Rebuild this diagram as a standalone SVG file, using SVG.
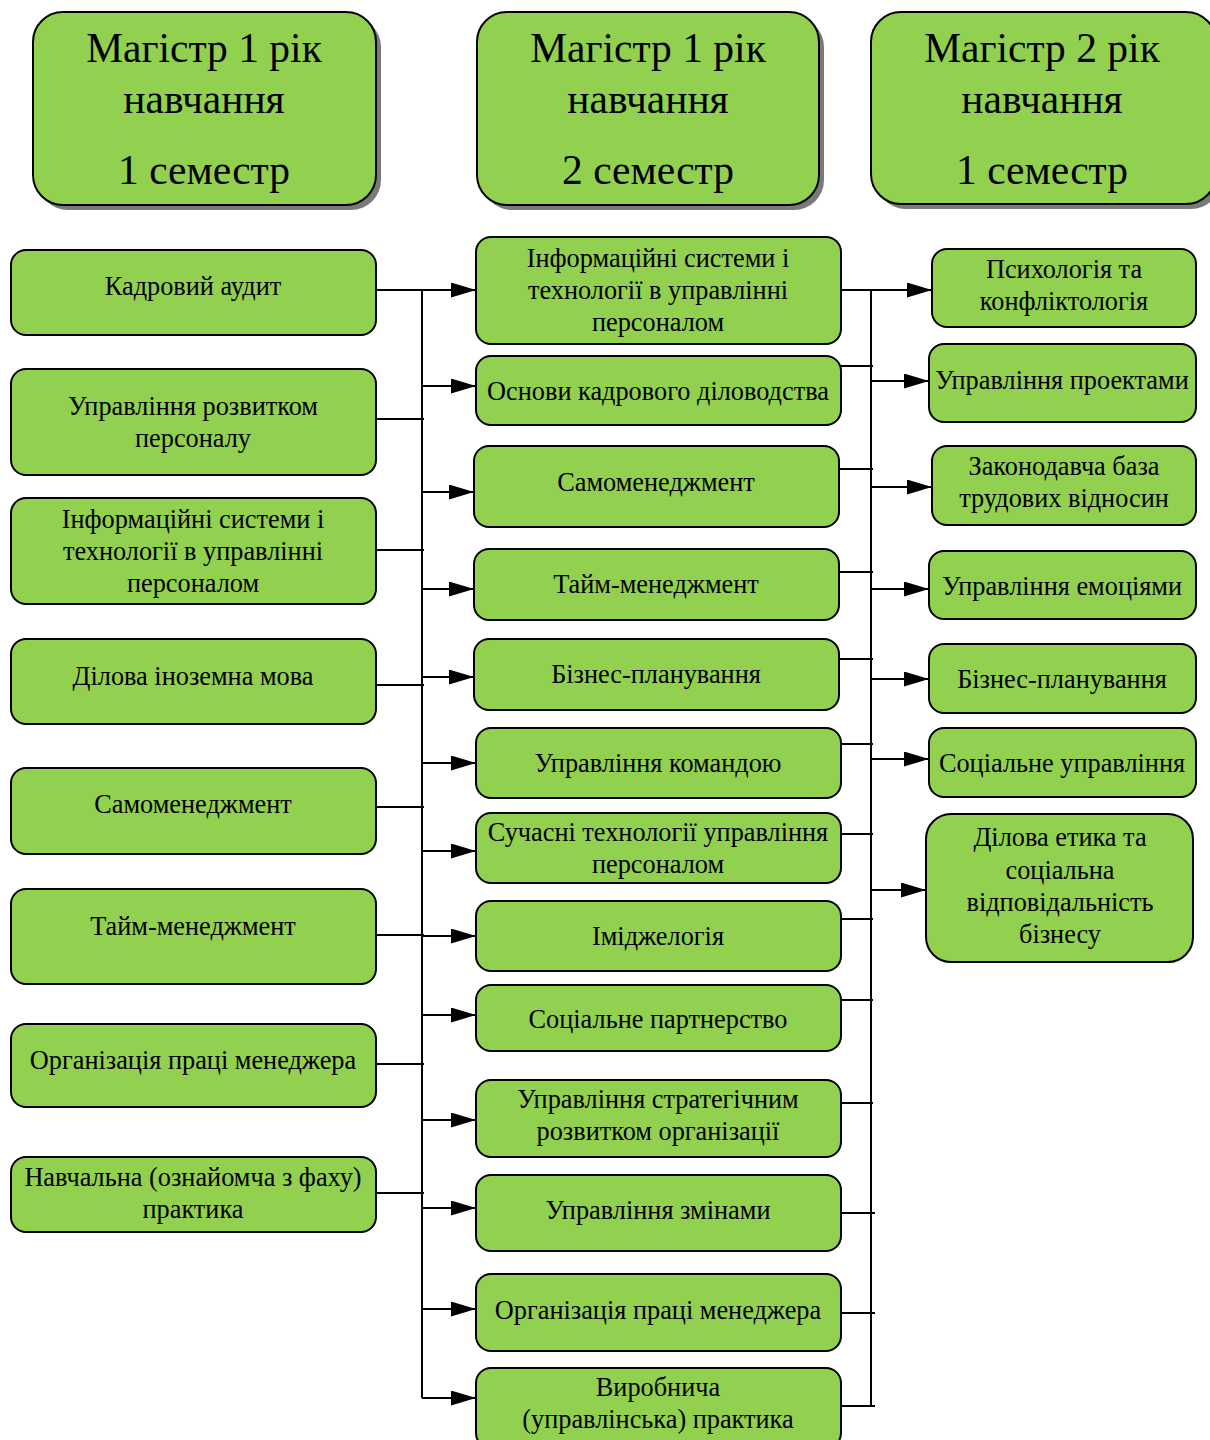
<svg xmlns="http://www.w3.org/2000/svg" width="1210" height="1440" viewBox="0 0 1210 1440">
<defs>
<marker id="arr" markerUnits="userSpaceOnUse" markerWidth="25" markerHeight="16" refX="25" refY="7.5" orient="auto">
<path d="M0,0 L25,7.5 L0,15 z" fill="#000"/>
</marker>
</defs>
<style>
.box{fill:#92D050;stroke:#000;stroke-width:2}
.sh{fill:#7a7a7a}
.hd{font-family:"Liberation Serif","Times New Roman",serif;font-size:41.5px;fill:#000;text-anchor:middle}
.t{font-family:"Liberation Serif","Times New Roman",serif;font-size:26.3px;fill:#000;text-anchor:middle}
.ln{stroke:#000;stroke-width:2;fill:none}
.ar{stroke:#000;stroke-width:2;fill:none;marker-end:url(#arr)}
</style>
<rect width="1210" height="1440" fill="#fff"/>

<g id="h1">
<rect class="sh" x="38" y="17" width="343" height="193" rx="30"/>
<rect class="box" x="33" y="12" width="343" height="193" rx="30"/>
<text class="hd" x="204" y="62">Магістр 1 рік</text>
<text class="hd" x="204" y="113">навчання</text>
<text class="hd" x="204" y="184">1 семестр</text>
</g>
<g id="h2">
<rect class="sh" x="482" y="17" width="342" height="193" rx="30"/>
<rect class="box" x="477" y="12" width="342" height="193" rx="30"/>
<text class="hd" x="648" y="62">Магістр 1 рік</text>
<text class="hd" x="648" y="113">навчання</text>
<text class="hd" x="648" y="184">2 семестр</text>
</g>
<g id="h3">
<rect class="sh" x="876" y="17" width="345" height="192" rx="30"/>
<rect class="box" x="871" y="12" width="345" height="192" rx="30"/>
<text class="hd" x="1042" y="62">Магістр 2 рік</text>
<text class="hd" x="1042" y="113">навчання</text>
<text class="hd" x="1042" y="184">1 семестр</text>
</g>

<g id="connectors">
<line class="ln" x1="422" y1="290" x2="422" y2="1398"/>
<line class="ar" x1="376" y1="290" x2="476" y2="290"/>
<line class="ln" x1="376" y1="419" x2="424" y2="419"/>
<line class="ln" x1="376" y1="550" x2="424" y2="550"/>
<line class="ln" x1="376" y1="685" x2="424" y2="685"/>
<line class="ln" x1="376" y1="807" x2="424" y2="807"/>
<line class="ln" x1="376" y1="935" x2="424" y2="935"/>
<line class="ln" x1="376" y1="1064" x2="424" y2="1064"/>
<line class="ln" x1="376" y1="1193" x2="424" y2="1193"/>
<line class="ar" x1="422" y1="386" x2="476" y2="386"/>
<line class="ar" x1="422" y1="492" x2="474" y2="492"/>
<line class="ar" x1="422" y1="589" x2="474" y2="589"/>
<line class="ar" x1="422" y1="677" x2="474" y2="677"/>
<line class="ar" x1="422" y1="763" x2="476" y2="763"/>
<line class="ar" x1="422" y1="851" x2="476" y2="851"/>
<line class="ar" x1="422" y1="936" x2="476" y2="936"/>
<line class="ar" x1="422" y1="1015" x2="476" y2="1015"/>
<line class="ar" x1="422" y1="1120" x2="476" y2="1120"/>
<line class="ar" x1="422" y1="1208" x2="476" y2="1208"/>
<line class="ar" x1="422" y1="1309" x2="476" y2="1309"/>
<line class="ar" x1="422" y1="1398" x2="476" y2="1398"/>

<line class="ln" x1="871" y1="290" x2="871" y2="1406"/>
<line class="ar" x1="841" y1="290" x2="932" y2="290"/>
<line class="ln" x1="841" y1="366" x2="873" y2="366"/>
<line class="ln" x1="839" y1="469" x2="873" y2="469"/>
<line class="ln" x1="839" y1="572" x2="873" y2="572"/>
<line class="ln" x1="839" y1="659" x2="873" y2="659"/>
<line class="ln" x1="841" y1="744" x2="873" y2="744"/>
<line class="ln" x1="841" y1="834" x2="873" y2="834"/>
<line class="ln" x1="841" y1="919" x2="873" y2="919"/>
<line class="ln" x1="841" y1="1000" x2="873" y2="1000"/>
<line class="ln" x1="841" y1="1103" x2="873" y2="1103"/>
<line class="ln" x1="841" y1="1213" x2="875" y2="1213"/>
<line class="ln" x1="841" y1="1313" x2="875" y2="1313"/>
<line class="ln" x1="841" y1="1406" x2="875" y2="1406"/>
<line class="ar" x1="871" y1="381" x2="929" y2="381"/>
<line class="ar" x1="871" y1="487" x2="932" y2="487"/>
<line class="ar" x1="871" y1="589" x2="929" y2="589"/>
<line class="ar" x1="871" y1="679" x2="929" y2="679"/>
<line class="ar" x1="871" y1="759" x2="929" y2="759"/>
<line class="ar" x1="871" y1="890" x2="926" y2="890"/>
</g>

<g id="l1"><rect class="box" x="11" y="250" width="365" height="85" rx="15"/><text class="t" x="193" y="295">Кадровий аудит</text></g>
<g id="l2"><rect class="box" x="11" y="369" width="365" height="106" rx="15"/><text class="t" x="193" y="415">Управління розвитком</text><text class="t" x="193" y="447">персоналу</text></g>
<g id="l3"><rect class="box" x="11" y="498" width="365" height="106" rx="15"/><text class="t" x="193" y="528">Інформаційні системи і</text><text class="t" x="193" y="560">технології в управлінні</text><text class="t" x="193" y="592">персоналом</text></g>
<g id="l4"><rect class="box" x="11" y="639" width="365" height="85" rx="15"/><text class="t" x="193" y="685">Ділова іноземна мова</text></g>
<g id="l5"><rect class="box" x="11" y="768" width="365" height="86" rx="15"/><text class="t" x="193" y="813">Самоменеджмент</text></g>
<g id="l6"><rect class="box" x="11" y="889" width="365" height="95" rx="15"/><text class="t" x="193" y="935">Тайм-менеджмент</text></g>
<g id="l7"><rect class="box" x="11" y="1024" width="365" height="83" rx="15"/><text class="t" x="193" y="1069">Організація праці менеджера</text></g>
<g id="l8"><rect class="box" x="11" y="1157" width="365" height="75" rx="15"/><text class="t" x="193" y="1186">Навчальна (ознайомча з фаху)</text><text class="t" x="193" y="1218">практика</text></g>

<g id="m1"><rect class="box" x="476" y="237" width="365" height="107" rx="15"/><text class="t" x="658" y="267">Інформаційні системи і</text><text class="t" x="658" y="299">технології в управлінні</text><text class="t" x="658" y="331">персоналом</text></g>
<g id="m2"><rect class="box" x="476" y="356" width="365" height="69" rx="15"/><text class="t" x="658" y="400">Основи кадрового діловодства</text></g>
<g id="m3"><rect class="box" x="474" y="446" width="365" height="81" rx="15"/><text class="t" x="656" y="491">Самоменеджмент</text></g>
<g id="m4"><rect class="box" x="474" y="549" width="365" height="71" rx="15"/><text class="t" x="656" y="593">Тайм-менеджмент</text></g>
<g id="m5"><rect class="box" x="474" y="639" width="365" height="71" rx="15"/><text class="t" x="656" y="683">Бізнес-планування</text></g>
<g id="m6"><rect class="box" x="476" y="728" width="365" height="70" rx="15"/><text class="t" x="658" y="772">Управління командою</text></g>
<g id="m7"><rect class="box" x="476" y="813" width="365" height="70" rx="15"/><text class="t" x="658" y="841">Сучасні технології управління</text><text class="t" x="658" y="873">персоналом</text></g>
<g id="m8"><rect class="box" x="476" y="901" width="365" height="70" rx="15"/><text class="t" x="658" y="945">Іміджелогія</text></g>
<g id="m9"><rect class="box" x="476" y="985" width="365" height="66" rx="15"/><text class="t" x="658" y="1028">Соціальне партнерство</text></g>
<g id="m10"><rect class="box" x="476" y="1080" width="365" height="77" rx="15"/><text class="t" x="658" y="1108">Управління стратегічним</text><text class="t" x="658" y="1140">розвитком організації</text></g>
<g id="m11"><rect class="box" x="476" y="1175" width="365" height="76" rx="15"/><text class="t" x="658" y="1219">Управління змінами</text></g>
<g id="m12"><rect class="box" x="476" y="1274" width="365" height="77" rx="15"/><text class="t" x="658" y="1319">Організація праці менеджера</text></g>
<g id="m13"><rect class="box" x="476" y="1368" width="365" height="80" rx="15"/><text class="t" x="658" y="1396">Виробнича</text><text class="t" x="658" y="1428">(управлінська) практика</text></g>

<g id="r1"><rect class="box" x="932" y="249" width="264" height="78" rx="15"/><text class="t" x="1064" y="278">Психологія та</text><text class="t" x="1064" y="310">конфліктологія</text></g>
<g id="r2"><rect class="box" x="929" y="344" width="267" height="78" rx="15"/><text class="t" x="1062" y="389">Управління проектами</text></g>
<g id="r3"><rect class="box" x="932" y="446" width="264" height="79" rx="15"/><text class="t" x="1064" y="475">Законодавча база</text><text class="t" x="1064" y="507">трудових відносин</text></g>
<g id="r4"><rect class="box" x="929" y="551" width="267" height="68" rx="15"/><text class="t" x="1062" y="595">Управління емоціями</text></g>
<g id="r5"><rect class="box" x="929" y="644" width="267" height="69" rx="15"/><text class="t" x="1062" y="688">Бізнес-планування</text></g>
<g id="r6"><rect class="box" x="929" y="728" width="267" height="69" rx="15"/><text class="t" x="1062" y="772">Соціальне управління</text></g>
<g id="r7"><rect class="box" x="926" y="814" width="267" height="148" rx="25"/><text class="t" x="1060" y="846">Ділова етика та</text><text class="t" x="1060" y="879">соціальна</text><text class="t" x="1060" y="911">відповідальність</text><text class="t" x="1060" y="943">бізнесу</text></g>
</svg>
